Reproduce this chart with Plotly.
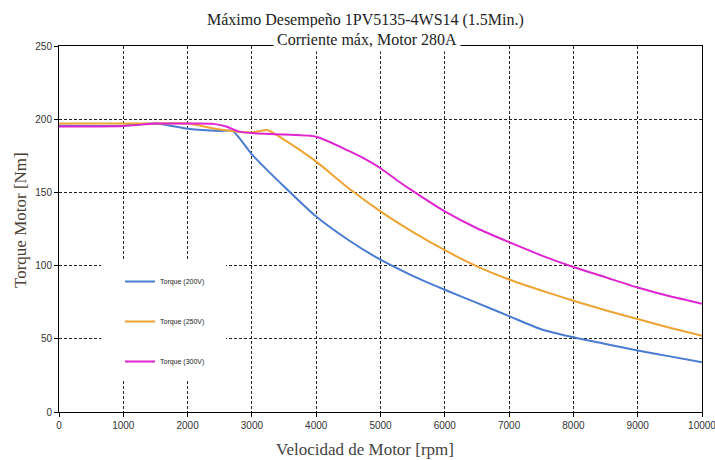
import plotly.graph_objects as go

rpm_200 = [0, 500, 1000, 1500, 2000, 2500, 2700, 3000, 3500, 4000, 4500, 5000, 5500, 6000, 6500, 7000, 7500, 8000, 8500, 9000, 9500, 10000]
torque_200 = [195.5, 195.3, 195.6, 197, 193.5, 192, 192, 176, 154, 133.5, 117.5, 104, 93, 83.5, 74.5, 65.5, 56.5, 51, 46.5, 42, 38, 34]

rpm_250 = [0, 500, 1000, 1500, 2000, 2500, 3000, 3250, 3500, 4000, 4500, 5000, 5500, 6000, 6500, 7000, 7500, 8000, 8500, 9000, 9500, 10000]
torque_250 = [197, 197, 197, 197, 197, 193, 191, 192.5, 186, 171, 153, 137, 123, 110.5, 99.5, 90.5, 83, 76, 69.5, 63.5, 57.5, 52]

rpm_300 = [0, 500, 1000, 1500, 2000, 2400, 2600, 2800, 3000, 3500, 4000, 4500, 4750, 5000, 5250, 5500, 6000, 6500, 7000, 7500, 8000, 8500, 9000, 9500, 10000]
torque_300 = [195, 195, 195.3, 197, 197, 196.8, 195, 191.5, 190.5, 189.5, 188, 178.5, 173, 166.5, 158.5, 151, 137, 125.5, 116, 107, 99, 92, 85, 79, 74]

series_names = ["Torque (200V)", "Torque (250V)", "Torque (300V)"]
series_colors = ["#4A7BD2", "#EDA433", "#DD25D0"]

title_line1 = "Máximo Desempeño 1PV5135-4WS14 (1.5Min.)"
title_line2 = "Corriente máx, Motor 280A"
x_title = "Velocidad de Motor [rpm]"
y_title = "Torque Motor [Nm]"

x_ticks = [0, 1000, 2000, 3000, 4000, 5000, 6000, 7000, 8000, 9000, 10000]
y_ticks = [0, 50, 100, 150, 200, 250]

fig = go.Figure()
for i, (xs, ys) in enumerate([(rpm_200, torque_200), (rpm_250, torque_250), (rpm_300, torque_300)]):
    fig.add_trace(go.Scatter(
        x=xs, y=ys, mode="lines", name=series_names[i],
        line=dict(color=series_colors[i], width=2, shape="spline", smoothing=0.6),
        legendgroup=f"g{i}",
    ))

serif = "Liberation Serif, Times New Roman, serif"
sans = "Liberation Sans, Arial, sans-serif"

W, H = 715, 460
ml, mr, mt, mb = 59, 13, 46, 48
pw, ph = W - ml - mr, H - mt - mb

def px_to_paper_x(px):
    return (px - ml) / pw

def px_to_paper_y(py):
    return (H - mb - py) / ph

fig.update_layout(
    width=W, height=H,
    margin=dict(l=ml, r=mr, t=mt, b=mb, autoexpand=False),
    paper_bgcolor="white", plot_bgcolor="white",
    showlegend=True,
    legend=dict(
        x=px_to_paper_x(120), y=px_to_paper_y(267), xanchor="left", yanchor="top",
        bgcolor="rgba(0,0,0,0)", font=dict(family=sans, size=7, color="#222"),
        tracegroupgap=21, itemwidth=30,
    ),
    xaxis=dict(
        range=[0, 10000], tickvals=x_ticks, ticktext=[str(v) for v in x_ticks],
        showgrid=True, gridcolor="#222", griddash="3px,2px", gridwidth=1,
        showline=True, linecolor="black", linewidth=1, mirror=True,
        ticks="outside", ticklen=4, tickcolor="black",
        tickfont=dict(family=sans, size=10, color="#333"),
        ticklabeloverflow="allow", automargin=False,
        zeroline=False,
    ),
    yaxis=dict(
        range=[0, 250], tickvals=y_ticks, ticktext=[str(v) for v in y_ticks],
        showgrid=True, gridcolor="#222", griddash="3px,2px", gridwidth=1,
        showline=True, linecolor="black", linewidth=1, mirror=True,
        ticks="outside", ticklen=4, tickcolor="black",
        tickfont=dict(family=sans, size=10, color="#333"),
        automargin=False,
        zeroline=False,
    ),
)

# white box behind the legend (hides grid lines as in the reference)
fig.add_shape(type="rect", xref="paper", yref="paper",
              x0=px_to_paper_x(101), x1=px_to_paper_x(226),
              y0=px_to_paper_y(380), y1=px_to_paper_y(260),
              fillcolor="white", line=dict(width=0), layer="above")

fig.add_annotation(text=title_line1, xref="paper", yref="paper",
                   x=px_to_paper_x(365), y=px_to_paper_y(20), xanchor="center", yanchor="middle",
                   showarrow=False, font=dict(family=serif, size=16, color="#222"))
fig.add_annotation(text=title_line2, xref="paper", yref="paper",
                   x=px_to_paper_x(367), y=px_to_paper_y(39), xanchor="center", yanchor="middle",
                   showarrow=False, font=dict(family=serif, size=16, color="#222"),
                   bgcolor="white", borderpad=3)
fig.add_annotation(text=x_title, xref="paper", yref="paper",
                   x=px_to_paper_x(365), y=px_to_paper_y(450), xanchor="center", yanchor="middle",
                   showarrow=False, font=dict(family=serif, size=17, color="#444"))
fig.add_annotation(text=y_title, xref="paper", yref="paper", textangle=-90,
                   x=px_to_paper_x(20), y=px_to_paper_y(220), xanchor="center", yanchor="middle",
                   showarrow=False, font=dict(family=serif, size=17, color="#4a3f35"))

fig.write_html("out.html", config={"displayModeBar": False})

# remove the browser's default page margin so the figure sits at the window origin
with open("out.html", "r", encoding="utf-8") as f:
    html = f.read()
html = html.replace("<body>", '<body style="margin:0;padding:0;overflow:hidden">', 1)
with open("out.html", "w", encoding="utf-8") as f:
    f.write(html)
